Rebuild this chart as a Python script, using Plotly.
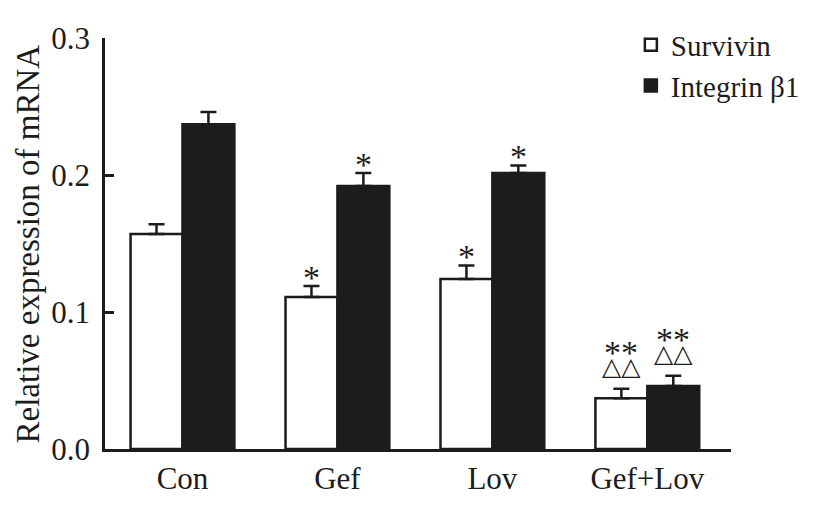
import plotly.graph_objects as go

groups = ["Con", "Gef", "Lov", "Gef+Lov"]
survivin = [0.157, 0.111, 0.124, 0.037]
survivin_err = [0.007, 0.008, 0.010, 0.007]
integrin = [0.237, 0.192, 0.2015, 0.046]
integrin_err = [0.009, 0.0095, 0.0055, 0.0075]
survivin_marks = ["", "*", "*", "**"]
integrin_marks = ["", "*", "*", "**"]
survivin_tri = ["", "", "", "△△"]
integrin_tri = ["", "", "", "△△"]

font = "Times New Roman, Liberation Serif, DejaVu Serif, serif"
ink = "#1c1c1c"

fig = go.Figure()
fig.add_trace(go.Bar(
    x=groups, y=survivin, name="Survivin",
    marker=dict(color="white", line=dict(color=ink, width=2.5)),
    error_y=dict(type="data", array=survivin_err, arrayminus=[0] * 4,
                 symmetric=False, color=ink, thickness=2.5, width=8),
))
fig.add_trace(go.Bar(
    x=groups, y=integrin, name="Integrin β1",
    marker=dict(color=ink, line=dict(color=ink, width=2.5)),
    error_y=dict(type="data", array=integrin_err, arrayminus=[0] * 4,
                 symmetric=False, color=ink, thickness=2.5, width=8),
))

# significance marks above the error bars
for vals, errs, marks, tris, shift in [
    (survivin, survivin_err, survivin_marks, survivin_tri, -26),
    (integrin, integrin_err, integrin_marks, integrin_tri, 26),
]:
    for g, v, e, m, t in zip(groups, vals, errs, marks, tris):
        top = v + e
        if t:
            fig.add_annotation(x=g, y=top, text=t, showarrow=False, xshift=shift,
                               yanchor="bottom", yshift=6,
                               font=dict(family="DejaVu Sans", size=25, color=ink))
            fig.add_annotation(x=g, y=top, text=m, showarrow=False, xshift=shift,
                               yanchor="bottom", yshift=16,
                               font=dict(family=font, size=34, color=ink))
        elif m:
            fig.add_annotation(x=g, y=top, text=m, showarrow=False, xshift=shift,
                               yanchor="bottom", yshift=-12,
                               font=dict(family=font, size=34, color=ink))

# y axis title, placed by hand so it can sit further left
fig.add_annotation(x=-0.155, y=0.5, xref="paper", yref="paper",
                   text="Relative expression of mRNA", textangle=-90,
                   showarrow=False, xanchor="left", yanchor="middle",
                   font=dict(family=font, size=33, color=ink))

fig.update_layout(
    width=815, height=525,
    margin=dict(l=97, r=92, t=30, b=84, autoexpand=False),
    paper_bgcolor="white", plot_bgcolor="white",
    barmode="group", bargap=0.33, bargroupgap=0,
    font=dict(family=font, size=31, color=ink),
    showlegend=True,
    legend=dict(x=0.84, y=1.045, xanchor="left", yanchor="top",
                font=dict(family=font, size=29, color=ink),
                bgcolor="rgba(0,0,0,0)", itemwidth=30, tracegroupgap=0),
)
fig.update_xaxes(
    range=[-0.5, 3.54], showgrid=False, showline=True, linecolor=ink,
    linewidth=2.5, ticks="", zeroline=False,
)
fig.update_yaxes(
    range=[0, 0.3], tickvals=[0, 0.1, 0.2, 0.3],
    ticktext=["0.0", "0.1", "0.2", "0.3"], showgrid=False, showline=True,
    linecolor=ink, linewidth=2.5, ticks="inside", ticklen=9, tickwidth=2.5,
    tickcolor=ink, zeroline=False, ticklabelstandoff=6,
)

fig.write_html("out.html")
